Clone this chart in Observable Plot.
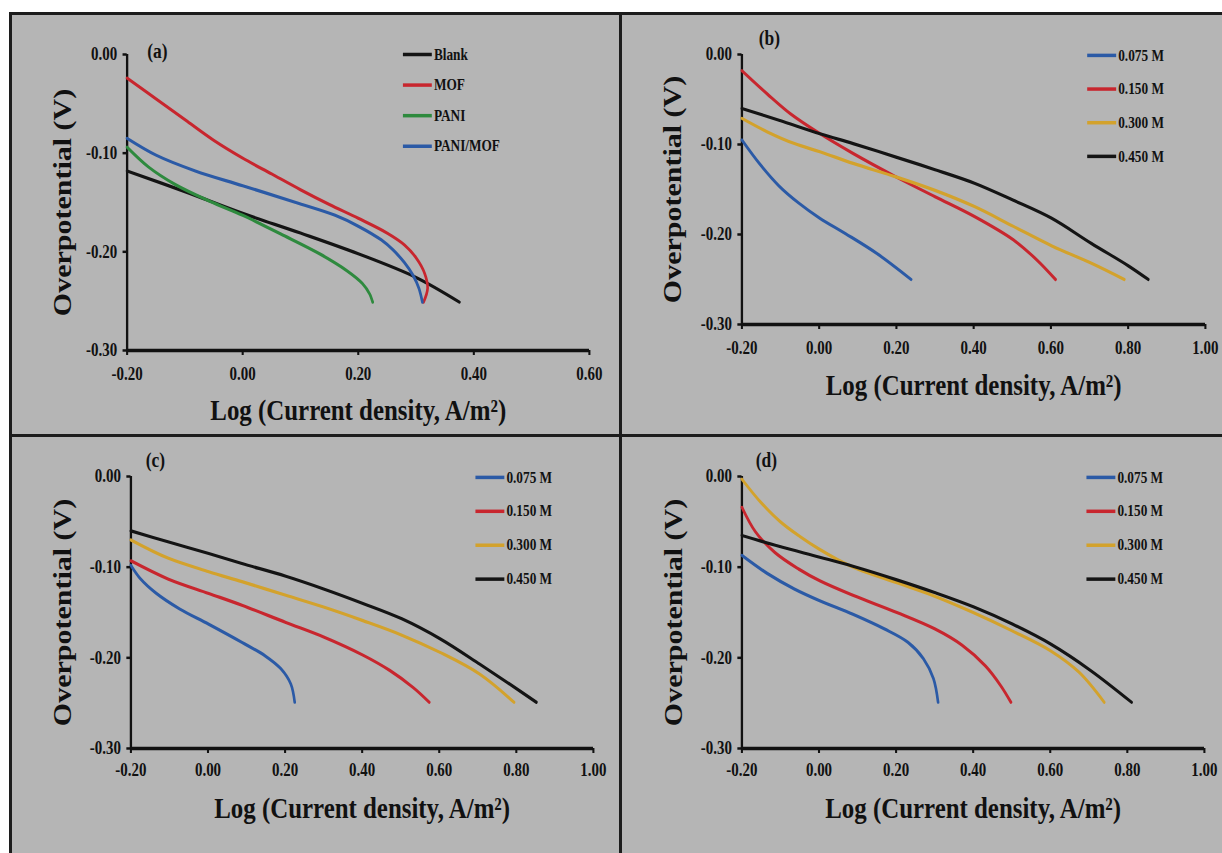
<!DOCTYPE html>
<html>
<head>
<meta charset="utf-8">
<script src="https://cdn.jsdelivr.net/npm/d3@7"></script>
<script src="https://cdn.jsdelivr.net/npm/@observablehq/plot@0.6"></script>
<style>
  body { margin: 0; background: #fff; }
  #fig { position: relative; width: 1222px; height: 853px; overflow: hidden; background: #fff; }
  .sheet { position: absolute; left: 9px; top: 12px; right: 0; bottom: 0; background: #b5b5b5;
           border-left: 3px solid #1c1c1c; border-top: 3px solid #1c1c1c; }
  .vdiv { position: absolute; left: 619px; top: 12px; width: 3px; bottom: 0; background: #1c1c1c; }
  .hdiv { position: absolute; left: 9px; right: 0; top: 434px; height: 3px; background: #1c1c1c; }
  .panel { position: absolute; transform-origin: 0 0; }
</style>
</head>
<body>
<div id="fig">
  <div class="sheet"></div>
  <div class="vdiv"></div>
  <div class="hdiv"></div>
</div>
<script>
// ---- Tick values and labels ----
const xTicksA = [-0.2, 0, 0.2, 0.4, 0.6];
const xTicksWide = [-0.2, 0, 0.2, 0.4, 0.6, 0.8, 1.0];
const yTicks = [0, -0.1, -0.2, -0.3];
const xTitle = "Log (Current density, A/m²)";
const yTitle = "Overpotential (V)";
const panelLetters = ["(a)", "(b)", "(c)", "(d)"];

// ---- Series names ----
const coatings = ["Blank", "MOF", "PANI", "PANI/MOF"];
const concentrations = ["0.075 M", "0.150 M", "0.300 M", "0.450 M"];

// ---- (a) coatings ----
const aBlankX   = [-0.200, -0.100, 0.000, 0.100, 0.200, 0.300, 0.375];
const aBlankY   = [-0.118, -0.139, -0.161, -0.181, -0.202, -0.226, -0.251];
const aMofX     = [-0.200, -0.150, -0.100, -0.050, 0.000, 0.050, 0.100, 0.150, 0.200, 0.250, 0.280, 0.300, 0.315, 0.320, 0.313];
const aMofY     = [-0.024, -0.045, -0.066, -0.087, -0.105, -0.121, -0.137, -0.152, -0.166, -0.181, -0.193, -0.206, -0.222, -0.237, -0.251];
const aPaniX    = [-0.200, -0.163, -0.116, -0.056, 0.000, 0.066, 0.133, 0.180, 0.207, 0.220, 0.225];
const aPaniY    = [-0.094, -0.114, -0.132, -0.149, -0.163, -0.182, -0.202, -0.219, -0.232, -0.243, -0.251];
const aPaniMofX = [-0.200, -0.150, -0.082, 0.000, 0.092, 0.160, 0.200, 0.240, 0.260, 0.280, 0.295, 0.305, 0.311];
const aPaniMofY = [-0.085, -0.102, -0.118, -0.133, -0.150, -0.163, -0.174, -0.188, -0.198, -0.211, -0.224, -0.237, -0.251];

// ---- (b) ----
const b075X = [-0.200, -0.155, -0.104, -0.053, 0.002, 0.068, 0.149, 0.238];
const b075Y = [-0.095, -0.121, -0.146, -0.165, -0.182, -0.199, -0.221, -0.250];
const b150X = [-0.200, -0.134, -0.074, 0.002, 0.088, 0.199, 0.300, 0.402, 0.503, 0.563, 0.612];
const b150Y = [-0.018, -0.044, -0.066, -0.088, -0.110, -0.136, -0.158, -0.180, -0.206, -0.228, -0.250];
const b300X = [-0.200, -0.134, -0.064, 0.002, 0.088, 0.199, 0.300, 0.402, 0.503, 0.604, 0.705, 0.790];
const b300Y = [-0.071, -0.086, -0.099, -0.108, -0.121, -0.136, -0.151, -0.169, -0.191, -0.213, -0.232, -0.250];
const b450X = [-0.200, -0.104, 0.002, 0.088, 0.199, 0.300, 0.402, 0.503, 0.602, 0.705, 0.801, 0.852];
const b450Y = [-0.060, -0.073, -0.088, -0.099, -0.114, -0.128, -0.143, -0.162, -0.182, -0.210, -0.235, -0.250];

// ---- (c) ----
const c075X = [-0.200, -0.175, -0.134, -0.074, 0.002, 0.088, 0.149, 0.189, 0.215, 0.225];
const c075Y = [-0.098, -0.113, -0.129, -0.146, -0.163, -0.183, -0.198, -0.212, -0.229, -0.249];
const c150X = [-0.200, -0.104, 0.002, 0.088, 0.202, 0.300, 0.402, 0.472, 0.533, 0.574];
const c150Y = [-0.093, -0.113, -0.129, -0.142, -0.161, -0.177, -0.197, -0.214, -0.233, -0.249];
const c300X = [-0.200, -0.104, 0.002, 0.088, 0.202, 0.300, 0.402, 0.503, 0.602, 0.705, 0.794];
const c300Y = [-0.070, -0.090, -0.105, -0.116, -0.131, -0.144, -0.159, -0.175, -0.194, -0.218, -0.249];
const c450X = [-0.200, -0.104, 0.002, 0.088, 0.202, 0.300, 0.402, 0.503, 0.602, 0.705, 0.776, 0.852];
const c450Y = [-0.060, -0.072, -0.085, -0.096, -0.110, -0.124, -0.140, -0.157, -0.179, -0.207, -0.227, -0.249];

// ---- (d) ----
const d075X = [-0.200, -0.134, -0.064, 0.002, 0.088, 0.169, 0.231, 0.271, 0.297, 0.309];
const d075Y = [-0.087, -0.107, -0.124, -0.137, -0.152, -0.168, -0.183, -0.201, -0.223, -0.249];
const d150X = [-0.200, -0.165, -0.114, -0.053, 0.002, 0.088, 0.202, 0.300, 0.371, 0.432, 0.472, 0.498];
const d150Y = [-0.034, -0.061, -0.084, -0.102, -0.115, -0.131, -0.150, -0.168, -0.186, -0.209, -0.231, -0.249];
const d300X = [-0.200, -0.150, -0.100, -0.050, 0.000, 0.050, 0.100, 0.200, 0.300, 0.400, 0.500, 0.600, 0.675, 0.740];
const d300Y = [-0.003, -0.029, -0.050, -0.066, -0.080, -0.092, -0.102, -0.117, -0.132, -0.150, -0.170, -0.192, -0.216, -0.249];
const d450X = [-0.200, -0.104, 0.002, 0.088, 0.202, 0.300, 0.402, 0.503, 0.602, 0.705, 0.811];
const d450Y = [-0.065, -0.077, -0.089, -0.099, -0.114, -0.128, -0.144, -0.163, -0.185, -0.214, -0.249];

// ---- Colours ----
const coatingColors = ["#141414", "#c8262e", "#2e8a3e", "#2b5aa6"];
const concColors = ["#2b5aa6", "#c8262e", "#d3a22c", "#141414"];

// Build a tidy table from parallel x/y arrays
function table(names, pairs) {
  return names.flatMap((name, k) => pairs[k][0].map((x, i) => ({name, x, y: pairs[k][1][i]})));
}

const rowsA = table(coatings, [[aBlankX, aBlankY], [aMofX, aMofY], [aPaniX, aPaniY], [aPaniMofX, aPaniMofY]]);
const rowsB = table(concentrations, [[b075X, b075Y], [b150X, b150Y], [b300X, b300Y], [b450X, b450Y]]);
const rowsC = table(concentrations, [[c075X, c075Y], [c150X, c150Y], [c300X, c300Y], [c450X, c450Y]]);
const rowsD = table(concentrations, [[d075X, d075Y], [d150X, d150Y], [d300X, d300Y], [d450X, d450Y]]);

// The whole figure is set slightly narrow: glyphs and spacing are squeezed horizontally.
const SQUEEZE = 0.83;
const FONT = "'Liberation Serif', 'Times New Roman', serif";
const fmt = d => d.toFixed(2);

function drawPanel(p) {
  const ml = (p.frame.left - p.box.x) / SQUEEZE;
  const mr = (p.box.x + p.box.w - p.frame.right) / SQUEEZE;
  const mt = p.frame.top - p.box.y;
  const mb = p.box.y + p.box.h - p.frame.bottom;
  const legendRows = p.names.map((name, i) => ({name, y: p.legend.y0 - i * p.legend.step}));
  const x0 = p.xTicks[0];

  const svg = Plot.plot({
    width: p.box.w / SQUEEZE,
    height: p.box.h,
    marginLeft: ml, marginRight: mr, marginTop: mt, marginBottom: mb,
    style: {background: "transparent", maxWidth: "none", overflow: "visible",
            color: "#111", fontFamily: FONT, fontWeight: "bold"},
    x: {domain: [x0, p.xTicks[p.xTicks.length - 1]], axis: null},
    y: {domain: [-0.3, 0], axis: null},
    color: {domain: p.names, range: p.colors},
    marks: [
      Plot.axisX({ticks: p.xTicks, tickFormat: fmt, tickSize: 5, tickPadding: p.xPad,
                  fontSize: 18, fontWeight: "bold", fontFamily: FONT, strokeWidth: 2.5, label: null}),
      Plot.axisY({ticks: yTicks, tickFormat: fmt, tickSize: 5, tickPadding: 7,
                  fontSize: 18, fontWeight: "bold", fontFamily: FONT, strokeWidth: 2.5, label: null}),
      Plot.ruleY([-0.3], {stroke: "#111", strokeWidth: 3.5}),
      Plot.ruleX([x0], {stroke: "#111", strokeWidth: 2.8}),
      Plot.line(p.rows, {x: "x", y: "y", z: "name", stroke: "name", strokeWidth: 3.2, curve: "catmull-rom"}),
      Plot.ruleY(legendRows, {y: "y", x1: p.legend.x1, x2: p.legend.x2, stroke: "name", strokeWidth: 3.5}),
      Plot.text(legendRows, {x: p.legend.x2, y: "y", text: "name", textAnchor: "start", dx: 2,
                             fontSize: 16, fontWeight: "bold", fontFamily: FONT, fill: "#111"}),
      Plot.text([p.letter], {text: d => d, frameAnchor: "top-left", dx: p.letterDx, dy: p.letterDy,
                             textAnchor: "middle", lineAnchor: "middle", fontSize: 21, fontWeight: "bold",
                             fontFamily: FONT, fill: "#111"}),
      Plot.text([xTitle], {text: d => d, frameAnchor: "bottom", dy: p.xTitleDy, textAnchor: "middle", lineAnchor: "middle",
                           fontSize: 30, fontWeight: "bold", fontFamily: FONT, fill: "#111"}),
      Plot.text([yTitle], {text: d => d, frameAnchor: "left", dx: p.yTitleDx, rotate: -90,
                           textAnchor: "middle", lineAnchor: "middle",
                           fontSize: 30, fontWeight: "bold", fontFamily: FONT, fill: "#111"})
    ]
  });

  const holder = document.createElement("div");
  holder.className = "panel";
  holder.style.left = p.box.x + "px";
  holder.style.top = p.box.y + "px";
  holder.style.transform = `scaleX(${SQUEEZE})`;
  holder.appendChild(svg);
  document.getElementById("fig").appendChild(holder);
}

const wideLegend = {x1: 0.695, x2: 0.770, y0: -0.001, step: 0.0374};

drawPanel({
  letter: panelLetters[0], names: coatings, colors: coatingColors, rows: rowsA, xTicks: xTicksA,
  box: {x: 12, y: 15, w: 607, h: 419},
  frame: {left: 126.7, right: 589, top: 54, bottom: 350},
  legend: {x1: 0.278, x2: 0.328, y0: 0.0, step: 0.031},
  xPad: 12, letterDx: 36.5, letterDy: -3, xTitleDy: 60, yTitleDx: -76.7
});
drawPanel({
  letter: panelLetters[1], names: concentrations, colors: concColors, rows: rowsB, xTicks: xTicksWide,
  box: {x: 622, y: 15, w: 600, h: 419},
  frame: {left: 741.5, right: 1205, top: 54, bottom: 324},
  legend: wideLegend,
  xPad: 12, letterDx: 33, letterDy: -16, xTitleDy: 61, yTitleDx: -82.5
});
drawPanel({
  letter: panelLetters[2], names: concentrations, colors: concColors, rows: rowsC, xTicks: xTicksWide,
  box: {x: 12, y: 437, w: 607, h: 416},
  frame: {left: 130.5, right: 593, top: 476, bottom: 748},
  legend: wideLegend,
  xPad: 10, letterDx: 29.5, letterDy: -16, xTitleDy: 60, yTitleDx: -82.2
});
drawPanel({
  letter: panelLetters[3], names: concentrations, colors: concColors, rows: rowsD, xTicks: xTicksWide,
  box: {x: 622, y: 437, w: 600, h: 416},
  frame: {left: 741.5, right: 1204, top: 476, bottom: 748},
  legend: wideLegend,
  xPad: 10, letterDx: 29.5, letterDy: -16, xTitleDy: 60, yTitleDx: -82
});
</script>
</body>
</html>
